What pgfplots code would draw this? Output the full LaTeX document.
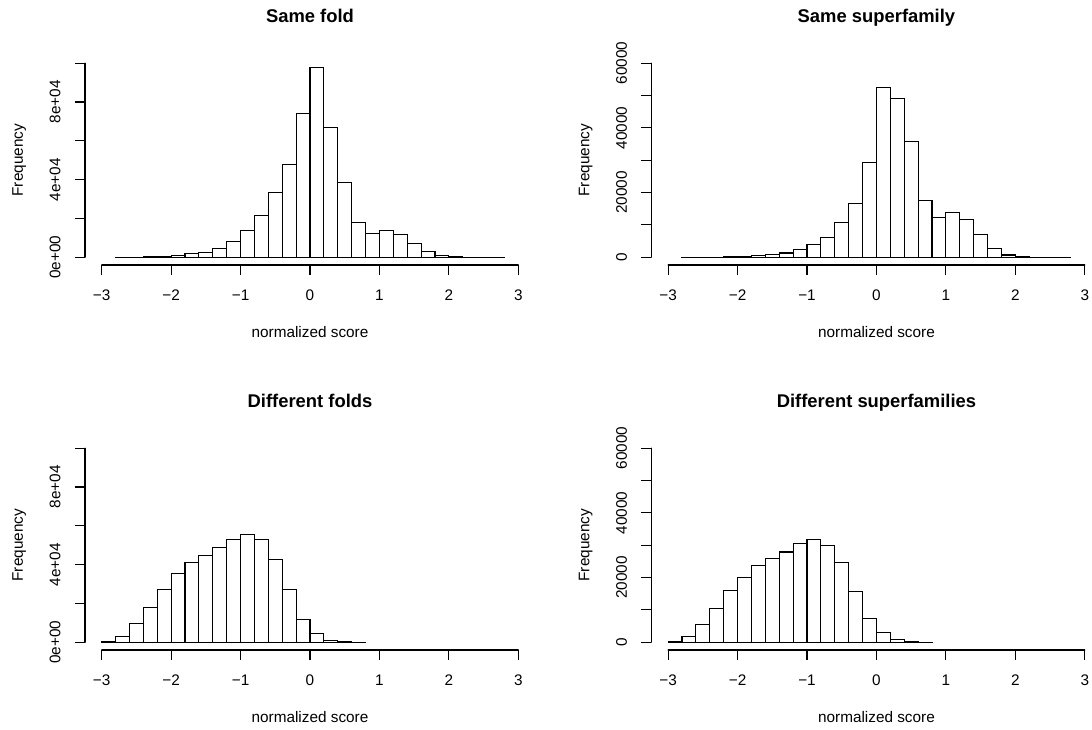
\documentclass[border=0pt]{standalone}
\usepackage{fontspec}
\setmainfont{Liberation Sans}
\usepackage{pgfplots}
\pgfplotsset{compat=1.18}

\pgfplotsset{
 rhist/.style={
  scale only axis, width=337.5pt, height=157.2pt,
  xmin=-3.24, xmax=3.24,
  axis x line*=bottom, axis y line*=left,
  axis line style={draw=none},
  tick align=outside, major tick length=7.5pt,
  major tick style={black, line width=0.8pt},
  minor tick num=0,
  xtick={-3,...,3},
  xticklabels={−3,−2,−1,0,1,2,3},
  scaled y ticks=false,
  /pgf/number format/assume math mode=true,
  ticklabel style={font=\fontsize{11.5}{13}\selectfont, inner sep=0pt},
  xticklabel style={anchor=base},
  yticklabel style={rotate=90, anchor=base},
  xticklabel shift=19.1pt,
  yticklabel shift=10.9pt,
  xlabel={normalized score}, ylabel={Frequency},
  label style={font=\fontsize{11.5}{13}\selectfont, inner sep=0pt},
  xlabel style={at={(axis description cs:0.5,0)}, anchor=base, yshift=-54.6pt},
  ylabel style={at={(axis description cs:-0.1378,0.5)}, anchor=base},
  title style={font=\bfseries\fontsize{13.8}{16}\selectfont, inner sep=0pt, at={(axis description cs:0.5,1)}, anchor=base, yshift=18.5pt},
  clip=false,
 },
 foldy/.style={ymin=-4000, ymax=104000, ytick={0,20000,40000,60000,80000,100000},
  yticklabels={0e+00,,4e+04,,8e+04,}},
 supy/.style={ymin=-2400, ymax=62400, ytick={0,10000,20000,30000,40000,50000,60000},
  yticklabels={0,,20000,,40000,,60000}},
 hbar/.style={ybar interval, fill=white, draw=black, line width=0.8pt},
}

\begin{document}
\begin{tikzpicture}
\useasboundingbox (0,0) rectangle (819pt,546.75pt);

% Same fold
\begin{axis}[rhist, foldy, at={(63.75pt,348pt)}, anchor=south west, title={Same fold}]
\draw[line width=0.8pt, line cap=round] (axis cs:-3,-4000) -- (axis cs:3,-4000);
\draw[line width=0.8pt, line cap=round] (axis cs:-3.24,0) -- (axis cs:-3.24,100000);
\addplot[hbar] table {
x y
-2.8 30
-2.6 80
-2.4 170
-2.2 520
-2.0 1030
-1.8 1720
-1.6 2580
-1.4 4470
-1.2 8250
-1.0 13900
-0.8 21480
-0.6 33160
-0.4 47600
-0.2 74200
0.0 97900
0.2 66660
0.4 38650
0.6 18040
0.8 12370
1.0 13900
1.2 11850
1.4 7200
1.6 2750
1.8 690
2.0 120
2.2 40
2.4 15
2.6 5
2.8 0
};
\end{axis}

% Same superfamily
\begin{axis}[rhist, supy, at={(488.6pt,348pt)}, anchor=south west, title={Same superfamily}]
\draw[line width=0.8pt, line cap=round] (axis cs:-3,-2400) -- (axis cs:3,-2400);
\draw[line width=0.8pt, line cap=round] (axis cs:-3.24,0) -- (axis cs:-3.24,60000);
\addplot[hbar] table {
x y
-2.8 10
-2.6 30
-2.4 60
-2.2 150
-2.0 300
-1.8 500
-1.6 750
-1.4 1300
-1.2 2500
-1.0 3900
-0.8 6000
-0.6 10800
-0.4 16500
-0.2 29400
0.0 52400
0.2 49000
0.4 35700
0.6 17600
0.8 12400
1.0 13900
1.2 11700
1.4 7100
1.6 2800
1.8 700
2.0 150
2.2 40
2.4 15
2.6 5
2.8 0
};
\end{axis}

% Different folds
\begin{axis}[rhist, foldy, at={(63.75pt,59.25pt)}, anchor=south west, title={Different folds}]
\draw[line width=0.8pt, line cap=round] (axis cs:-3,-4000) -- (axis cs:3,-4000);
\draw[line width=0.8pt, line cap=round] (axis cs:-3.24,0) -- (axis cs:-3.24,100000);
\addplot[hbar] table {
x y
-3.0 150
-2.8 3100
-2.6 9800
-2.4 18000
-2.2 27300
-2.0 35200
-1.8 41200
-1.6 44800
-1.4 48600
-1.2 53100
-1.0 55500
-0.8 52900
-0.6 42800
-0.4 27100
-0.2 11900
0.0 4300
0.2 1000
0.4 200
0.6 50
0.8 0
};
\end{axis}

% Different superfamilies
\begin{axis}[rhist, supy, at={(488.6pt,59.25pt)}, anchor=south west, title={Different superfamilies}]
\draw[line width=0.8pt, line cap=round] (axis cs:-3,-2400) -- (axis cs:3,-2400);
\draw[line width=0.8pt, line cap=round] (axis cs:-3.24,0) -- (axis cs:-3.24,60000);
\addplot[hbar] table {
x y
-3.0 100
-2.8 1700
-2.6 5500
-2.4 10400
-2.2 15900
-2.0 20000
-1.8 23600
-1.6 25800
-1.4 27900
-1.2 30400
-1.0 31800
-0.8 29900
-0.6 24700
-0.4 15700
-0.2 7400
0.0 3000
0.2 900
0.4 200
0.6 50
0.8 0
};
\end{axis}
\end{tikzpicture}
\end{document}
